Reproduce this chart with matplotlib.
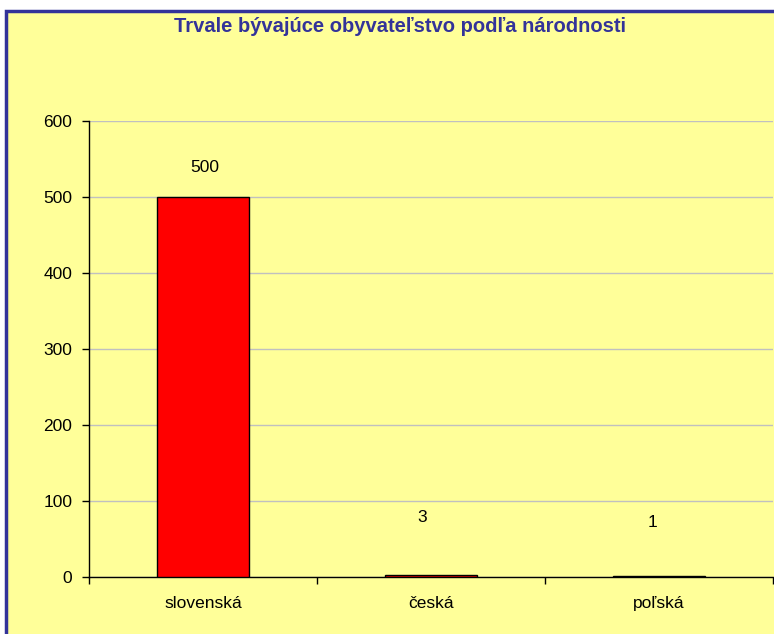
import numpy as np
import matplotlib.pyplot as plt
from matplotlib.patches import Rectangle

# data
narodnosti = ["slovenská", "česká", "poľská"]
pocty = [500, 3, 1]
y_ticks = [0, 100, 200, 300, 400, 500, 600]

plt.rcParams['font.family'] = ['Liberation Sans', 'DejaVu Sans']

fig = plt.figure(figsize=(7.74, 6.34), dpi=100)
fig.patch.set_facecolor("white")

# yellow chart area with navy frame (clipped at right/bottom like the reference)
fig.patches.append(Rectangle((6/774, -0.01), 1.0, 1 - 11/634 + 0.01, transform=fig.transFigure,
                             facecolor="#FFFF99", edgecolor="#333399", linewidth=2.5, zorder=0))

ax = fig.add_axes([89/774, 1 - 577/634, 684/774, (577 - 121)/634])
ax.set_zorder(2)
ax.set_facecolor("none")

x = np.arange(len(narodnosti))
bars = ax.bar(x, pocty, width=0.4, color="#FF0000", edgecolor="black", linewidth=1, zorder=3)

fs = 12.5
# label offsets in points (Excel places them a bit irregularly)
offsets = [(1, 16), (-6, 36), (-5, 33)]
for b, v, off in zip(bars, pocty, offsets):
    ax.annotate(str(v), (b.get_x() + b.get_width() / 2, b.get_height()),
                xytext=off, textcoords="offset points", ha="center", va="bottom",
                fontsize=fs)

ax.set_xlim(-0.5, len(narodnosti) - 0.5)
ax.set_ylim(0, 600)
ax.set_yticks(y_ticks)
ax.yaxis.grid(True, color="#C0C0C0", linewidth=1, zorder=0)
ax.set_axisbelow(True)

ax.set_xticks(x)
ax.set_xticklabels(narodnosti, fontsize=fs)
ax.set_xticks(np.arange(len(narodnosti) + 1) - 0.5, minor=True)
ax.tick_params(axis="x", which="major", length=0, pad=14)
ax.tick_params(axis="x", which="minor", length=5, width=1, color="black")
ax.tick_params(axis="y", length=5, width=1, labelsize=fs, pad=7)

for s in ["top", "right"]:
    ax.spines[s].set_visible(False)
ax.spines["left"].set_linewidth(1)
ax.spines["bottom"].set_linewidth(1)

fig.text(400/774, 1 - 27/634, "Trvale bývajúce obyvateľstvo podľa národnosti",
         ha="center", va="center", fontsize=14.5, fontweight="bold", color="#333399")

fig.savefig("out.png", dpi=100)
